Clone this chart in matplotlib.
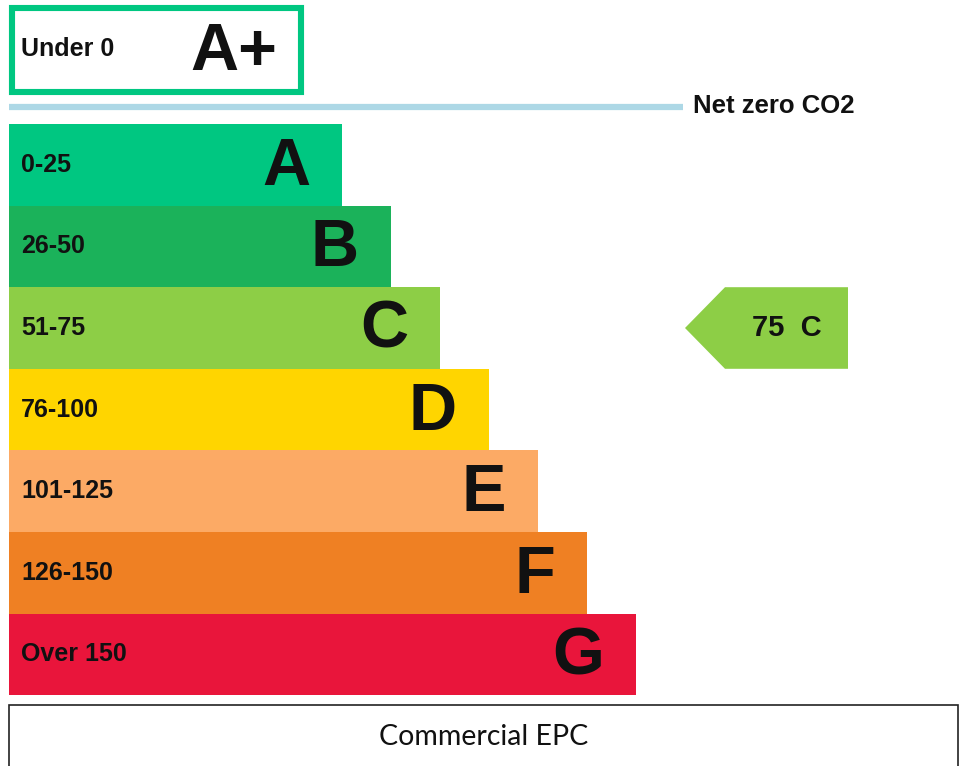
import matplotlib
matplotlib.use("Agg")
import matplotlib.pyplot as plt
from matplotlib.patches import Rectangle, Polygon

# -------------------------------
# DATA
# -------------------------------
bands = ["A", "B", "C", "D", "E", "F", "G"]
ranges = ["0-25", "26-50", "51-75", "76-100", "101-125", "126-150", "Over 150"]
colors = ["#00c781", "#1bb25a", "#8dce46", "#ffd500", "#fcaa65", "#ef8023", "#e9153b"]

top_band = "A+"
top_range = "Under 0"
top_color = "#00c781"
net_zero_label = "Net zero CO2"

current_score = 75
current_band = "C"
title = "Commercial EPC"

# -------------------------------
# LAYOUT (pixels)
# -------------------------------
W, H = 963, 766
x0 = 9
bar_top = 124
bar_h = 81.6
bar_w0 = 333
bar_step = 49
ink = "#111111"
bold = dict(family="Liberation Sans", weight="bold", color=ink)

fig = plt.figure(figsize=(W / 100, H / 100), dpi=100)
ax = fig.add_axes([0, 0, 1, 1])
ax.set_xlim(0, W)
ax.set_ylim(H, 0)
ax.axis("off")

# A+ box
ax.add_patch(Rectangle((12, 8), 289, 84, facecolor="white",
                       edgecolor=top_color, linewidth=4.4))
ax.text(21, 49, top_range, ha="left", va="center", fontsize=18, **bold)
ax.text(277, 53, top_band, ha="right", va="center", fontsize=48, **bold)

# net zero line
ax.plot([x0, 683], [107, 107], color="#add8e6", linewidth=4.5, solid_capstyle="butt")
ax.text(693, 106, net_zero_label, ha="left", va="center", fontsize=18.5, **bold)

# bands
for i, (b, r, c) in enumerate(zip(bands, ranges, colors)):
    y = bar_top + i * bar_h
    w = bar_w0 + i * bar_step
    ax.add_patch(Rectangle((x0, y), w, bar_h, facecolor=c, edgecolor="none"))
    ax.text(21, y + bar_h / 2, r, ha="left", va="center", fontsize=18, **bold)
    ax.text(x0 + w - 32, y + bar_h / 2 + 3, b, ha="right", va="center",
            fontsize=48, **bold)

# current rating arrow
idx = bands.index(current_band)
ya = bar_top + idx * bar_h
arrow = Polygon([(685, ya + bar_h / 2), (725, ya), (848, ya),
                 (848, ya + bar_h), (725, ya + bar_h)],
                closed=True, facecolor=colors[idx], edgecolor="none")
ax.add_patch(arrow)
ax.text(752, ya + bar_h / 2, f"{current_score}  {current_band}", ha="left",
        va="center", fontsize=21, **bold)

# title box
ax.add_patch(Rectangle((x0, 705), 949, 80, facecolor="white",
                       edgecolor="#222222", linewidth=1.2))
ax.text(484, 737, title, ha="center", va="center", fontsize=20.5,
        family="Lato", color=ink)

fig.savefig("out.png", dpi=100)
